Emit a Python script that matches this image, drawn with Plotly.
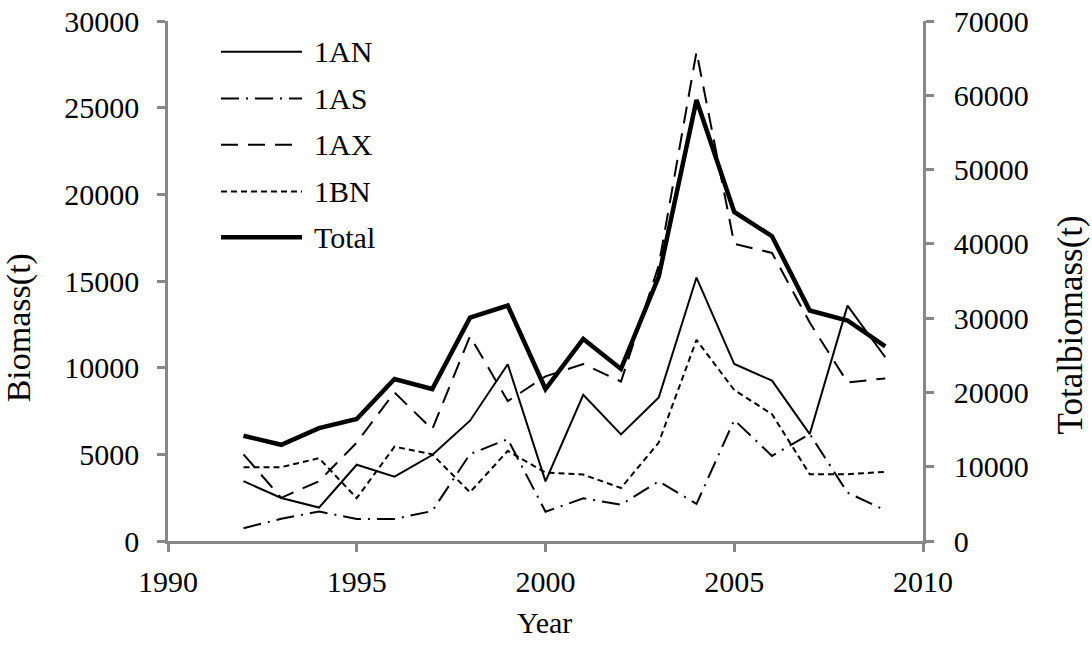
import plotly.graph_objects as go

# Biomass by stock area, 1992-2009
years = list(range(1992, 2010))
an_1 = [3450, 2480, 1930, 4400, 3710, 4960, 6940, 10200, 3440, 8430, 6150, 8280, 15200, 10210, 9250, 6170, 13580, 10600]
as_1 = [740, 1280, 1700, 1270, 1270, 1730, 5010, 5880, 1690, 2460, 2100, 3440, 2140, 6980, 4910, 6170, 2790, 1770]
ax_1 = [5000, 2490, 3450, 5680, 8570, 6440, 11820, 8070, 9500, 10210, 9200, 15900, 28220, 17150, 16620, 12600, 9150, 9380]
bn_1 = [4260, 4260, 4780, 2470, 5440, 5000, 2810, 5200, 3950, 3830, 3060, 5680, 11600, 8710, 7320, 3850, 3850, 3990]
total = [14170, 12950, 15200, 16420, 21810, 20460, 30070, 31700, 20460, 27210, 23160, 35600, 59360, 44290, 41030, 31030, 29680, 26190]

series_names = ["1AN", "1AS", "1AX", "1BN", "Total"]
left_ticks = [0, 5000, 10000, 15000, 20000, 25000, 30000]
right_ticks = [0, 10000, 20000, 30000, 40000, 50000, 60000, 70000]
year_ticks = [1990, 1995, 2000, 2005, 2010]

FONT = "Liberation Serif"
AXIS_GREY = "#888888"

styles = {
    "1AN": dict(width=2, dash="solid"),
    "1AS": dict(width=2, dash="18px,7px,2px,7px"),
    "1AX": dict(width=2, dash="17px,10px"),
    "1BN": dict(width=2, dash="6px,4px"),
    "Total": dict(width=4.5, dash="solid"),
}

fig = go.Figure()
for name, vals in zip(series_names[:4], [an_1, as_1, ax_1, bn_1]):
    fig.add_trace(go.Scatter(
        x=years, y=vals, name=name, mode="lines",
        line=dict(color="black", **styles[name]), yaxis="y",
    ))
fig.add_trace(go.Scatter(
    x=years, y=total, name="Total", mode="lines",
    line=dict(color="black", **styles["Total"]), yaxis="y2",
))

axis_common = dict(
    showline=True, linecolor=AXIS_GREY, linewidth=2.5,
    ticks="outside", tickcolor=AXIS_GREY, tickwidth=2.5, ticklen=8,
    showgrid=False, zeroline=False, automargin=False, tickformat="d",
    tickfont=dict(family=FONT, size=30, color="black"),
)

fig.update_layout(
    width=1092, height=660,
    margin=dict(l=168, r=169, t=21, b=119, autoexpand=False),
    paper_bgcolor="white", plot_bgcolor="white",
    showlegend=False,
    font=dict(family=FONT, size=30, color="black"),
    xaxis=dict(range=[1990, 2010], tickvals=year_ticks, ticklabelstandoff=4, **axis_common),
    yaxis=dict(range=[0, 30000], tickvals=left_ticks, ticklabelstandoff=12, **axis_common),
    yaxis2=dict(range=[0, 70000], tickvals=right_ticks, overlaying="y", side="right",
                ticklabelstandoff=14, **axis_common),
)

# Hand-drawn legend: long line samples with labels
legend_y = [0.941, 0.851, 0.762, 0.672, 0.584]
for name, ly in zip(series_names, legend_y):
    st = styles[name]
    fig.add_shape(type="line", xref="paper", yref="paper",
                  x0=0.0702, x1=0.1775, y0=ly, y1=ly,
                  line=dict(color="black", width=st["width"], dash=st["dash"]))
    fig.add_annotation(xref="paper", yref="paper", x=0.1907, y=ly,
                       text=name, showarrow=False, xanchor="left", yanchor="middle",
                       font=dict(family=FONT, size=30, color="black"))

# Axis titles
fig.add_annotation(xref="paper", yref="paper", x=0.4993, y=-0.156, text="Year",
                   showarrow=False, xanchor="center", yanchor="middle",
                   font=dict(family=FONT, size=30, color="black"))
fig.add_annotation(xref="paper", yref="paper", x=-0.198, y=0.41, text="Biomass(t)",
                   showarrow=False, textangle=-90, xanchor="center", yanchor="middle",
                   font=dict(family=FONT, size=34, color="black"))
fig.add_annotation(xref="paper", yref="paper", x=1.195, y=0.415, text="Totalbiomass(t)",
                   showarrow=False, textangle=-90, xanchor="center", yanchor="middle",
                   font=dict(family=FONT, size=35, color="black"))

fig.write_html("out.html")
